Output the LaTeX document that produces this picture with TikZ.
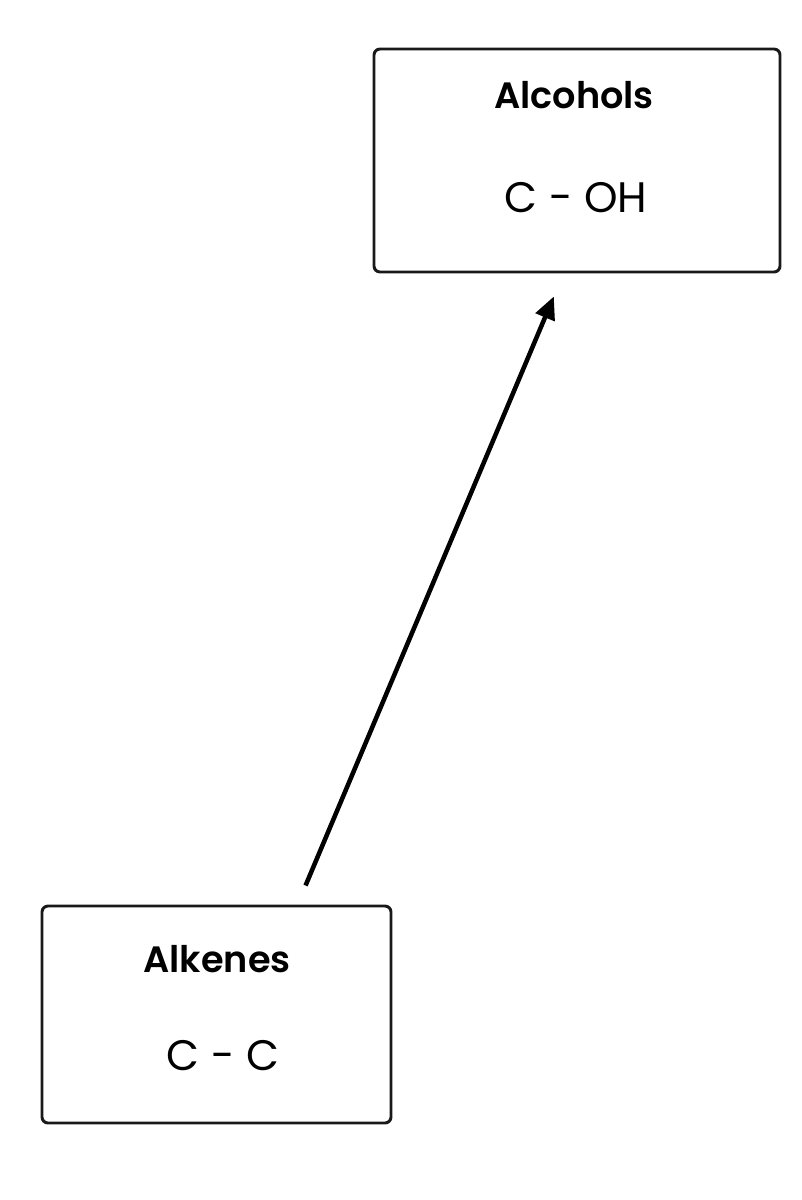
\documentclass[tikz,border=0pt]{standalone}
\usepackage{fontspec}
\setmainfont{Poppins}[BoldFont={Poppins SemiBold}]
\usetikzlibrary{arrows.meta,calc}
\tikzstyle{groupbox}=[
    draw=black!90,
    line width=2.2pt,
    rounded corners=4.5pt,
    fill=white,
    inner sep=0pt,
]
\tikzstyle{grouptitle}=[anchor=base, font=\fontsize{27.5}{32}\selectfont\bfseries]
\tikzstyle{formula}=[anchor=base, font=\fontsize{32}{38}\selectfont]
\tikzstyle{reaction}=[-{Triangle[length=17pt,width=15pt]}, line width=3.4pt]

\begin{document}
\begin{tikzpicture}[x=0.75pt,y=-0.75pt]
        \useasboundingbox (0,0) rectangle (802,1200);
        % functional groups
        \node[groupbox, minimum width=304.5pt, minimum height=167.25pt] (alcohols) at (577,160.5) {};
        \node[grouptitle] (alcoholstitle) at (574,108) {Alcohols};
        \node[formula] (alcoholsformula) at (576,212) {C - OH};
        \node[groupbox, minimum width=261.75pt, minimum height=162.75pt] (alkenes) at (216.5,1014.5) {};
        \node[grouptitle] (alkenestitle) at (217,972) {Alkenes};
        \node[formula] (alkenesformula) at (223,1070) {C - C};
        % hydration
        \draw[reaction, shorten <=15.5pt, shorten >=18.7pt]
            ($(alkenes.north west)+(257,0)$) -- ($(alcohols.south west)+(191,0)$);
    \end{tikzpicture}
\end{document}
